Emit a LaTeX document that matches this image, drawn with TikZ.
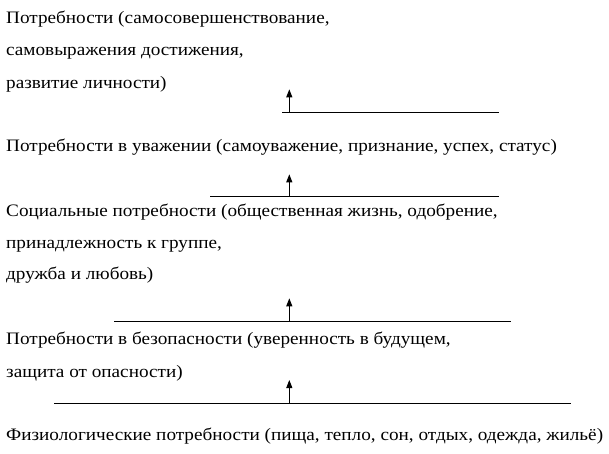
\documentclass[tikz,border=0pt]{standalone}
\usepackage{fontspec}
\setmainfont{Liberation Serif}[FakeStretch=1.097]
\usetikzlibrary{arrows.meta}
\begin{document}
\begin{tikzpicture}[x=1pt,y=-1pt,
  lbl/.style={anchor=base west,inner sep=0pt,font=\fontsize{17.5}{20}\selectfont},
  bar/.style={line width=1pt},
  up/.style={line width=1pt,-{Triangle[length=8pt,width=6pt]}}]
\useasboundingbox (0,0) rectangle (609,453);
% texts
\node[lbl] (t1a) at (6,23.3) {Потребности (самосовершенствование,};
\node[lbl] (t1b) at (6,55.7) {самовыражения достижения,};
\node[lbl] (t1c) at (6,88.3) {развитие личности)};
\node[lbl] (t2) at (6,151.7) {Потребности в уважении (самоуважение, признание, успех, статус)};
\node[lbl] (t3a) at (6,216.7) {Социальные потребности (общественная жизнь, одобрение,};
\node[lbl] (t3b) at (6,248) {принадлежность к группе,};
\node[lbl] (t3c) at (6,279.5) {дружба и любовь)};
\node[lbl] (t4a) at (6,344.3) {Потребности в безопасности (уверенность в будущем,};
\node[lbl] (t4b) at (6,377.5) {защита от опасности)};
\node[lbl] (t5) at (6,440.7) {Физиологические потребности (пища, тепло, сон, отдых, одежда, жильё)};
% bars and arrows
\coordinate (b1l) at (282.3,112.3); \coordinate (b1r) at (499,112.3);
\coordinate (b1m) at (289.3,112.3); \coordinate (a1) at (289.3,89.3);
\coordinate (b2l) at (210,196.7); \coordinate (b2r) at (498.5,196.7);
\coordinate (b2m) at (289.3,196.7); \coordinate (a2) at (289.3,174.3);
\coordinate (b3l) at (114.3,321.5); \coordinate (b3r) at (510.7,321.5);
\coordinate (b3m) at (289.3,321.5); \coordinate (a3) at (289.3,298.3);
\coordinate (b4l) at (54.3,403); \coordinate (b4r) at (570.7,403);
\coordinate (b4m) at (289.3,403); \coordinate (a4) at (289.3,380);
\draw[bar] (b1l) -- (b1r); \draw[up] (b1m) -- (a1);
\draw[bar] (b2l) -- (b2r); \draw[up] (b2m) -- (a2);
\draw[bar] (b3l) -- (b3r); \draw[up] (b3m) -- (a3);
\draw[bar] (b4l) -- (b4r); \draw[up] (b4m) -- (a4);
\end{tikzpicture}
\end{document}
